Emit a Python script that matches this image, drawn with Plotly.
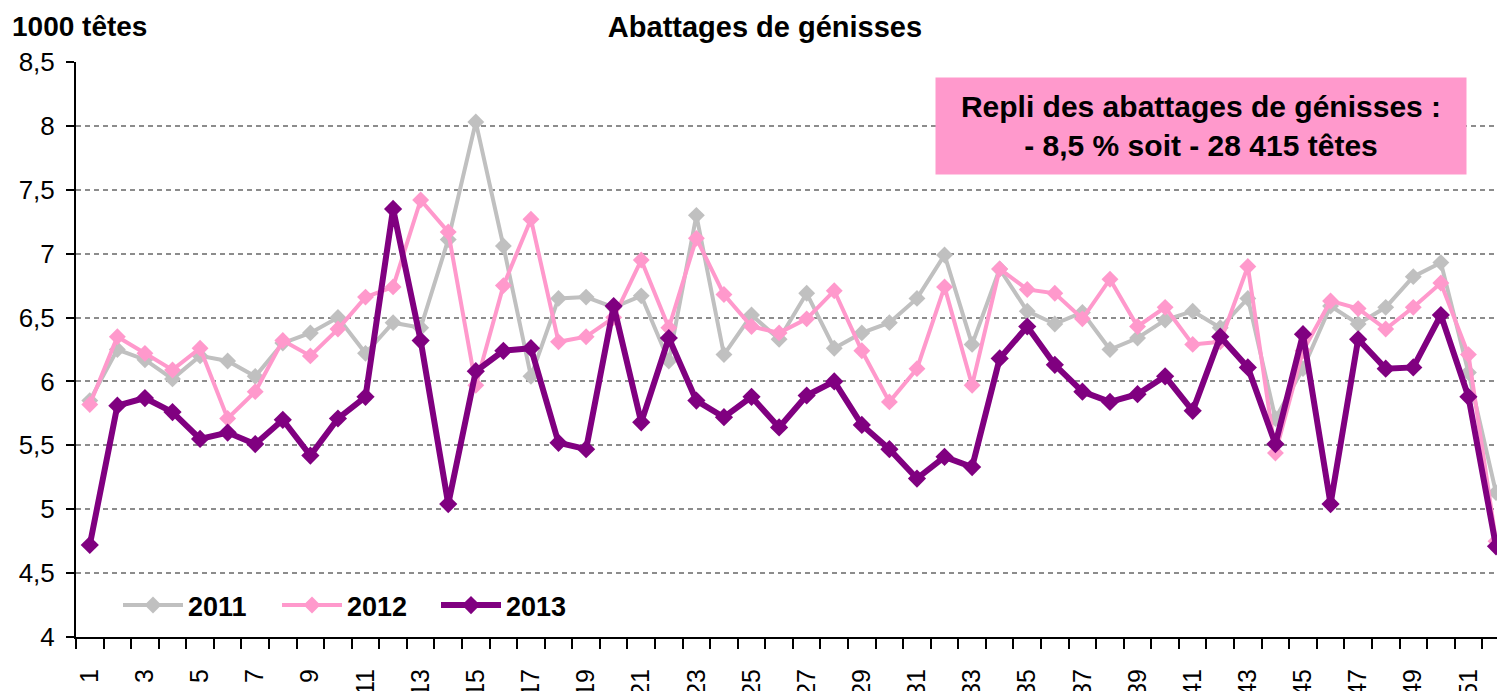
import plotly.graph_objects as go

weeks = list(range(1, 53))

y2011 = [5.85, 6.25, 6.17, 6.02, 6.20, 6.16, 6.04, 6.30, 6.38, 6.50,
         6.22, 6.46, 6.42, 7.11, 8.03, 7.06, 6.04, 6.65, 6.66, 6.58,
         6.67, 6.16, 7.30, 6.21, 6.52, 6.33, 6.69, 6.26, 6.38, 6.46,
         6.65, 6.99, 6.29, 6.88, 6.55, 6.45, 6.54, 6.25, 6.34, 6.48,
         6.55, 6.42, 6.65, 5.71, 6.10, 6.59, 6.45, 6.58, 6.82, 6.93,
         6.07, 5.13]

y2012 = [5.82, 6.35, 6.22, 6.09, 6.26, 5.71, 5.92, 6.32, 6.20, 6.41,
         6.66, 6.74, 7.42, 7.17, 5.97, 6.75, 7.27, 6.31, 6.35, 6.50,
         6.95, 6.42, 7.12, 6.68, 6.43, 6.38, 6.49, 6.71, 6.24, 5.84,
         6.10, 6.74, 5.97, 6.88, 6.72, 6.69, 6.49, 6.80, 6.43, 6.58,
         6.29, 6.31, 6.90, 5.44, 6.24, 6.63, 6.57, 6.41, 6.58, 6.77,
         6.21, 4.75]

y2013 = [4.72, 5.81, 5.87, 5.76, 5.55, 5.60, 5.51, 5.70, 5.42, 5.71,
         5.88, 7.35, 6.32, 5.04, 6.08, 6.24, 6.26, 5.52, 5.47, 6.59,
         5.68, 6.34, 5.85, 5.72, 5.88, 5.64, 5.89, 6.00, 5.66, 5.47,
         5.24, 5.41, 5.33, 6.18, 6.43, 6.13, 5.92, 5.84, 5.90, 6.04,
         5.77, 6.35, 6.11, 5.51, 6.37, 5.04, 6.33, 6.10, 6.11, 6.52,
         5.88, 4.71]

series_names = ["2011", "2012", "2013"]
series_values = [y2011, y2012, y2013]
series_colors = ["#C0C0C0", "#FF99CC", "#800080"]
line_widths = [4, 4, 6]
marker_sizes = [13, 13, 14]

x_tick_vals = list(range(1, 53, 2))
x_tick_text = [str(v) for v in x_tick_vals]
y_tick_vals = [4, 4.5, 5, 5.5, 6, 6.5, 7, 7.5, 8, 8.5]
y_tick_text = ["4", "4,5", "5", "5,5", "6", "6,5", "7", "7,5", "8", "8,5"]

title_text = "Abattages de génisses"
unit_text = "1000 têtes"
box_text = "Repli des abattages de génisses :<br>- 8,5 % soit - 28 415 têtes"

FONT = "Liberation Sans, Arial, sans-serif"
W, H = 1497, 691
L, R, T, B = 76, 0, 62, 54
pw = W - L - R
ph = H - T - B

fig = go.Figure()
for name, vals, col, lw, ms in zip(series_names, series_values, series_colors, line_widths, marker_sizes):
    fig.add_trace(go.Scatter(
        x=weeks, y=vals, name=name, mode="lines+markers",
        line=dict(color=col, width=lw),
        marker=dict(symbol="diamond", size=ms, color=col),
    ))

def px_x(p):
    return (p - L) / pw

def px_y(p):
    return (H - B - p) / ph

fig.update_layout(
    width=W, height=H,
    margin=dict(l=L, r=R, t=T, b=B, autoexpand=False),
    paper_bgcolor="white", plot_bgcolor="white",
    font=dict(family=FONT, color="black", size=26),
    title=dict(text=title_text, x=765 / W, xref="container", xanchor="center",
               y=1 - 27 / H, yref="container", yanchor="middle",
               font=dict(family=FONT, size=29, color="black", weight="bold")),
    showlegend=True,
    legend=dict(orientation="h", x=px_x(118), xanchor="left", y=px_y(581), yanchor="top",
                bgcolor="white", font=dict(family=FONT, size=27, color="black", weight="bold"),
                itemwidth=60, entrywidth=84, traceorder="normal"),
    xaxis=dict(
        automargin=False,
        range=[0.5, 52 + 1 / 27.57], showgrid=False, zeroline=False,
        showline=True, linecolor="black", linewidth=2,
        tickmode="array", tickvals=x_tick_vals, ticktext=x_tick_text,
        tickangle=-90, ticks="outside", ticklen=20, tickcolor="rgba(0,0,0,0)",
        tickfont=dict(family=FONT, size=25, color="black"),
        minor=dict(tickmode="array", tickvals=[w + 0.5 for w in range(0, 53)],
                   ticks="outside", ticklen=10, tickwidth=2, tickcolor="black", showgrid=False),
    ),
    yaxis=dict(
        automargin=False,
        range=[4, 8.5], zeroline=False,
        showline=True, linecolor="black", linewidth=2,
        tickmode="array", tickvals=y_tick_vals, ticktext=y_tick_text,
        ticks="outside", ticklen=8, tickwidth=2, tickcolor="black",
        ticklabelstandoff=6,
        tickfont=dict(family=FONT, size=26, color="black"),
        showgrid=True, gridcolor="#8C8C8C", gridwidth=2, griddash="5px,4px",
    ),
)

fig.add_annotation(
    text=unit_text, xref="paper", yref="paper", x=px_x(10), y=px_y(27),
    xanchor="left", yanchor="middle", showarrow=False,
    font=dict(family=FONT, size=28, color="black", weight="bold"),
)

fig.add_annotation(
    text=box_text, xref="paper", yref="paper",
    x=px_x((936 + 1466) / 2), y=px_y((78 + 174) / 2),
    xanchor="center", yanchor="middle", showarrow=False,
    width=530, height=96, borderpad=0, bgcolor="#FF99CC",
    font=dict(family=FONT, size=30, color="black", weight="bold"),
)

fig.write_html("out.html", config={"displayModeBar": False},
               post_script="document.body.style.margin='0';document.body.style.overflow='hidden';")
